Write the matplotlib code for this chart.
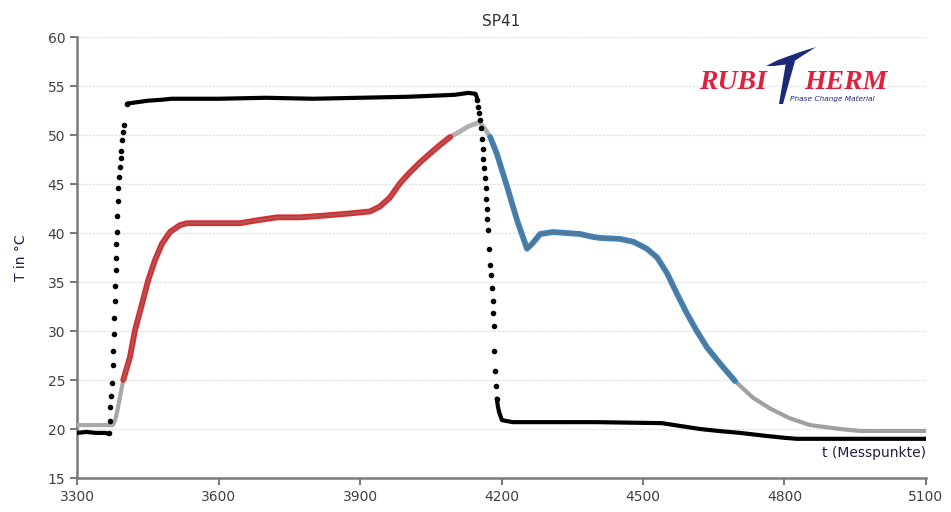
import matplotlib
matplotlib.use("Agg")
import matplotlib.pyplot as plt
from matplotlib.patches import Polygon

# ambient / heater temperature (black), flat parts drawn as line, steep parts as dots
amb_start_t = [3300, 3320, 3340, 3360, 3368]
amb_start_T = [19.6, 19.7, 19.6, 19.6, 19.5]
amb_rise_t = [3368, 3370, 3370, 3372, 3374, 3376, 3377, 3378, 3379, 3380, 3381, 3382,
              3383, 3383, 3384, 3385, 3386, 3387, 3389, 3391, 3393, 3394, 3395, 3398, 3400, 3406]
amb_rise_T = [19.6, 20.8, 22.2, 23.4, 24.7, 26.5, 28.0, 29.7, 31.3, 33.1, 34.6, 36.2,
              37.5, 38.9, 40.1, 41.7, 43.3, 44.6, 45.7, 46.7, 47.7, 48.4, 49.5, 50.3, 51.0, 53.2]
amb_hold_t = [3406, 3420, 3450, 3480, 3500, 3600, 3700, 3800, 3900, 4000, 4050, 4100, 4130, 4145, 4148]
amb_hold_T = [53.2, 53.3, 53.5, 53.6, 53.7, 53.7, 53.8, 53.7, 53.8, 53.9, 54.0, 54.1, 54.3, 54.2, 53.8]
amb_drop_t = [4148, 4150, 4152, 4154, 4156, 4158, 4160, 4161, 4163, 4165, 4167, 4168, 4169,
              4170, 4171, 4173, 4175, 4177, 4179, 4181, 4183, 4184, 4185, 4186, 4188, 4190]
amb_drop_T = [53.6, 52.9, 52.2, 51.5, 50.7, 49.6, 48.6, 47.6, 46.6, 45.6, 44.6, 43.5, 42.5,
              41.4, 40.3, 38.4, 36.7, 35.7, 34.4, 33.1, 31.8, 30.5, 28.0, 25.9, 24.4, 23.1]
amb_cool_t = [4190, 4192, 4195, 4201, 4224, 4300, 4400, 4540, 4580, 4621, 4660, 4706, 4760, 4800, 4826, 4900, 5000, 5100]
amb_cool_T = [23.1, 22.4, 21.7, 20.9, 20.7, 20.7, 20.7, 20.6, 20.3, 20.0, 19.8, 19.6, 19.3, 19.1, 19.0, 19.0, 19.0, 19.0]

# sample temperature SP41, split into its coloured phases
pre_t = [3300, 3376, 3380, 3383, 3386, 3390, 3394, 3398]
pre_T = [20.4, 20.4, 20.8, 21.3, 22.0, 23.0, 24.0, 25.0]
melt_t = [3398, 3412, 3423, 3438, 3451, 3465, 3480, 3497, 3518, 3533, 3645, 3682, 3724, 3773,
          3830, 3879, 3921, 3942, 3963, 3985, 4006, 4027, 4048, 4070, 4091]
melt_T = [25.0, 27.3, 30.1, 32.8, 35.2, 37.2, 38.9, 40.1, 40.8, 41.0, 41.0, 41.3, 41.6, 41.6,
          41.8, 42.0, 42.2, 42.7, 43.6, 45.1, 46.2, 47.2, 48.1, 49.0, 49.8]
peak_t = [4091, 4110, 4130, 4154, 4165, 4176]
peak_T = [49.8, 50.3, 50.9, 51.3, 50.6, 49.8]
solid_t = [4176, 4190, 4212, 4233, 4254, 4265, 4282, 4309, 4366, 4394, 4409, 4451, 4480, 4508,
           4530, 4551, 4572, 4593, 4614, 4636, 4663, 4695]
solid_T = [49.8, 48.1, 44.7, 41.3, 38.4, 38.9, 39.9, 40.1, 39.9, 39.6, 39.5, 39.4, 39.1, 38.4,
           37.5, 35.9, 33.8, 31.8, 30.0, 28.3, 26.7, 24.9]
tail_t = [4695, 4733, 4769, 4790, 4811, 4854, 4918, 4960, 5002, 5100]
tail_T = [24.9, 23.2, 22.1, 21.6, 21.1, 20.4, 20.0, 19.8, 19.8, 19.8]

x_ticks = [3300, 3600, 3900, 4200, 4500, 4800, 5100]
y_ticks = [15, 20, 25, 30, 35, 40, 45, 50, 55, 60]

fig = plt.figure(figsize=(9.51, 5.12), dpi=100)
ax = fig.add_axes([0.081, 0.0664, 0.8927, 0.8613])

txt = "#404040"
ax.set_xlim(3300, 5100)
ax.set_ylim(15, 60)
ax.set_xticks(x_ticks)
ax.set_yticks(y_ticks)
ax.tick_params(axis="both", direction="out", length=5, width=1.2, color="#606060",
               labelsize=10, labelcolor=txt)
ax.yaxis.grid(True, color="#e2e2e2", linestyle=(0, (2, 1)), linewidth=0.9)
ax.set_axisbelow(True)
for side in ["top", "right"]:
    ax.spines[side].set_visible(False)
for side in ["left", "bottom"]:
    ax.spines[side].set_color("#7a7a7a")
    ax.spines[side].set_linewidth(1.8)

# sample curve
ax.plot(pre_t, pre_T, color="#a8a8a8", lw=3, solid_capstyle="round", zorder=3)
ax.plot(peak_t, peak_T, color="#b0b0b0", lw=3.5, solid_capstyle="round", zorder=3)
ax.plot(tail_t, tail_T, color="#a0a0a0", lw=3, solid_capstyle="round", zorder=3)
ax.plot(melt_t, melt_T, color="#e0282c", lw=4.2, solid_capstyle="round", zorder=4)
ax.plot(melt_t, melt_T, color="#a85858", lw=1.6, zorder=4)
ax.plot(solid_t, solid_T, color="#3a84c2", lw=4.2, solid_capstyle="round", zorder=4)
ax.plot(solid_t, solid_T, color="#5b7488", lw=1.6, zorder=4)

# ambient curve
for xs, ys in [(amb_start_t, amb_start_T), (amb_hold_t, amb_hold_T), (amb_cool_t, amb_cool_T)]:
    ax.plot(xs, ys, color="black", lw=3, solid_capstyle="round", zorder=5)
ax.plot(amb_rise_t, amb_rise_T, "o", color="black", ms=3, zorder=5)
ax.plot(amb_drop_t, amb_drop_T, "o", color="black", ms=3, zorder=5)

ax.set_title("SP41", fontsize=11, color="#303030", pad=8)
ax.set_ylabel("T in °C", fontsize=10, color="#202040", labelpad=14)
ax.text(5100, 16.8, "t (Messpunkte)", ha="right", va="bottom", fontsize=10, color="#202040")

# logo
logo_red = "#e0203c"
logo_blue = "#1a2a78"
fig.text(699 / 951, 1 - 89 / 512, "RUBI", fontsize=20, fontweight="bold", style="italic",
         family="Liberation Serif", color=logo_red)
fig.text(804 / 951, 1 - 89 / 512, "HERM", fontsize=20, fontweight="bold", style="italic",
         family="Liberation Serif", color=logo_red)
fig.text(790 / 951, 1 - 101 / 512, "Phase Change Material", fontsize=5.3, style="italic",
         color=logo_blue)
stem = [(786, 62), (795, 61), (783, 104), (779, 104)]
swoosh = [(766, 66), (778, 60), (800, 52), (816, 47), (802, 56), (790, 64), (774, 66)]
for shape in (stem, swoosh):
    pts = [(px / 951, 1 - py / 512) for px, py in shape]
    fig.patches.append(Polygon(pts, closed=True, facecolor=logo_blue, edgecolor="none",
                               transform=fig.transFigure, figure=fig))

fig.savefig("out.png", dpi=100)
